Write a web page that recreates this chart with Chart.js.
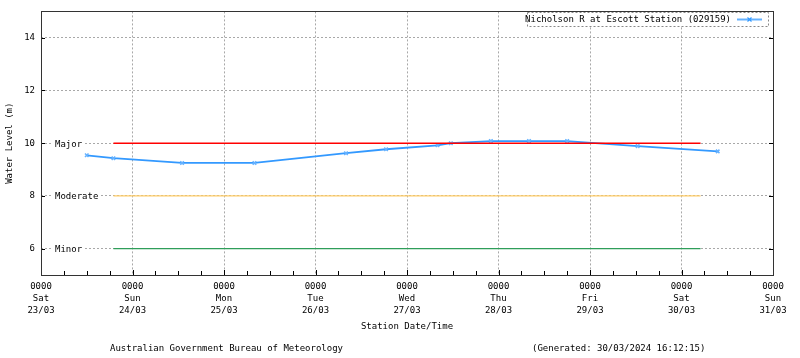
<!DOCTYPE html>
<html>
<head>
<meta charset="utf-8">
<script src="https://cdn.jsdelivr.net/npm/chart.js@4.4.1/dist/chart.umd.min.js"></script>
<style>
  body { margin: 0; background: #fff; }
  #wrap { position: relative; width: 800px; height: 358px; }
  .foot { position: absolute; top: 343px; font: 9px "DejaVu Sans Mono", "Liberation Mono", monospace; color: #000; white-space: pre; }
</style>
</head>
<body>
<div id="wrap">
  <canvas id="levelChart" width="800" height="358"></canvas>
  <div class="foot" style="left:110px">Australian Government Bureau of Meteorology</div>
  <div class="foot" style="left:532px">(Generated: 30/03/2024 16:12:15)</div>
</div>
<script>
// hours since Sat 23/03 0000
const obsHours = [12, 19, 37, 56, 80, 90.5, 104, 107.5, 118, 128, 138, 156.5, 177.5];
const obsLevels = [9.54, 9.43, 9.25, 9.25, 9.62, 9.77, 9.92, 10.0, 10.08, 10.08, 10.08, 9.89, 9.69];

const dayTicks = [0, 24, 48, 72, 96, 120, 144, 168, 192];
const dayLabels = [
  ["0000", "Sat", "23/03"], ["0000", "Sun", "24/03"], ["0000", "Mon", "25/03"],
  ["0000", "Tue", "26/03"], ["0000", "Wed", "27/03"], ["0000", "Thu", "28/03"],
  ["0000", "Fri", "29/03"], ["0000", "Sat", "30/03"], ["0000", "Sun", "31/03"]
];
const levelTicks = [6, 8, 10, 12, 14];

const floodNames = ["Major", "Moderate", "Minor"];
const floodLevels = [10, 8, 6];
const floodColors = ["#ff0000", "#ffcc66", "#2f9e5a"];
const floodRange = [19, 173];

const FONT = { family: "'DejaVu Sans Mono', 'Liberation Mono', monospace", size: 9 };

const datasets = floodNames.map((name, i) => ({
  label: name,
  data: floodRange.map(h => ({ x: h, y: floodLevels[i] })),
  borderColor: floodColors[i],
  borderWidth: 1.4,
  pointRadius: 0
}));
datasets.push({
  label: "Nicholson R at Escott Station (029159)",
  data: obsHours.map((h, i) => ({ x: h, y: obsLevels[i] })),
  borderColor: "#3399ff",
  borderWidth: 1.8,
  pointStyle: "crossRot",
  pointRadius: 2.5,
  pointBorderColor: "#66b2ff",
  pointBorderWidth: 1.5
});

// frame, inward ticks, flood labels, legend
const extras = {
  id: "extras",
  afterDatasetsDraw(chart) {
    const { ctx, chartArea: a, scales: { x, y } } = chart;
    ctx.save();
    ctx.strokeStyle = "#000";
    ctx.lineWidth = 1;
    ctx.beginPath();
    for (let h = 0; h <= 192; h += 6) {
      const px = Math.round(x.getPixelForValue(h)) + 0.5;
      const len = h % 24 === 0 ? 5 : 4;
      ctx.moveTo(px, a.bottom); ctx.lineTo(px, a.bottom - len);
    }
    levelTicks.forEach(v => {
      const py = Math.round(y.getPixelForValue(v)) + 0.5;
      ctx.moveTo(a.left, py); ctx.lineTo(a.left + 4, py);
      ctx.moveTo(a.right, py); ctx.lineTo(a.right - 4, py);
    });
    ctx.stroke();
    ctx.strokeStyle = "#333";
    ctx.strokeRect(Math.round(a.left) + 0.5, Math.round(a.top) + 0.5,
      Math.round(a.right - a.left), Math.round(a.bottom - a.top));

    ctx.font = FONT.size + "px " + FONT.family;
    ctx.textBaseline = "middle";
    ctx.textAlign = "left";
    floodNames.forEach((name, i) => {
      const py = y.getPixelForValue(floodLevels[i]);
      const w = ctx.measureText(name).width;
      ctx.fillStyle = "#fff";
      ctx.fillRect(a.left + 12, py - 5, w + 4, 10);
      ctx.fillStyle = "#000";
      ctx.fillText(name, a.left + 14, py + 1);
    });

    // legend
    const ds = chart.data.datasets[3];
    const bx = 527, by = 12, bw = 241, bh = 14;
    ctx.fillStyle = "#fff";
    ctx.fillRect(bx, by, bw, bh);
    ctx.setLineDash([2, 2]);
    ctx.strokeStyle = "#888";
    ctx.strokeRect(bx + 0.5, by + 0.5, bw, bh);
    ctx.setLineDash([]);
    ctx.fillStyle = "#000";
    ctx.textAlign = "right";
    ctx.fillText(ds.label, 731, by + bh / 2 + 1);
    ctx.strokeStyle = "#66b2ff";
    ctx.lineWidth = 2;
    ctx.beginPath();
    ctx.moveTo(737, by + 7.5); ctx.lineTo(762, by + 7.5);
    ctx.stroke();
    ctx.lineWidth = 1.2;
    ctx.strokeStyle = "#3399ff";
    ctx.beginPath();
    ctx.moveTo(747.5, by + 5.5); ctx.lineTo(751.5, by + 9.5);
    ctx.moveTo(751.5, by + 5.5); ctx.lineTo(747.5, by + 9.5);
    ctx.stroke();
    ctx.restore();
  }
};

new Chart("levelChart", {
  type: "line",
  data: { datasets: datasets },
  options: {
    responsive: false,
    animation: false,
    layout: { padding: { left: 0, right: 27, top: 11, bottom: 26 } },
    plugins: { legend: { display: false }, tooltip: { enabled: false } },
    scales: {
      x: {
        type: "linear",
        min: 0,
        max: 192,
        afterBuildTicks: s => { s.ticks = dayTicks.map(v => ({ value: v })); },
        afterFit: s => { s.height = 57; },
        grid: { color: "#a8a8a8", drawTicks: false },
        border: { display: false, dash: [2, 2] },
        ticks: {
          padding: 6,
          color: "#000",
          font: { ...FONT, lineHeight: 1.3 },
          maxRotation: 0,
          autoSkip: false,
          callback: (v, i) => dayLabels[i]
        },
        title: { display: true, text: "Station Date/Time", color: "#000", font: FONT, padding: { top: 4, bottom: 0 } }
      },
      y: {
        min: 5,
        max: 15,
        afterBuildTicks: s => { s.ticks = levelTicks.map(v => ({ value: v })); },
        afterFit: s => { s.width = 41; },
        grid: { color: "#a8a8a8", drawTicks: false },
        border: { display: false, dash: [2, 2] },
        ticks: { padding: 6, color: "#000", font: FONT },
        title: { display: true, text: "Water Level (m)", color: "#000", font: FONT, padding: { top: 4, bottom: 0 } }
      }
    }
  },
  plugins: [extras]
});
</script>
</body>
</html>
